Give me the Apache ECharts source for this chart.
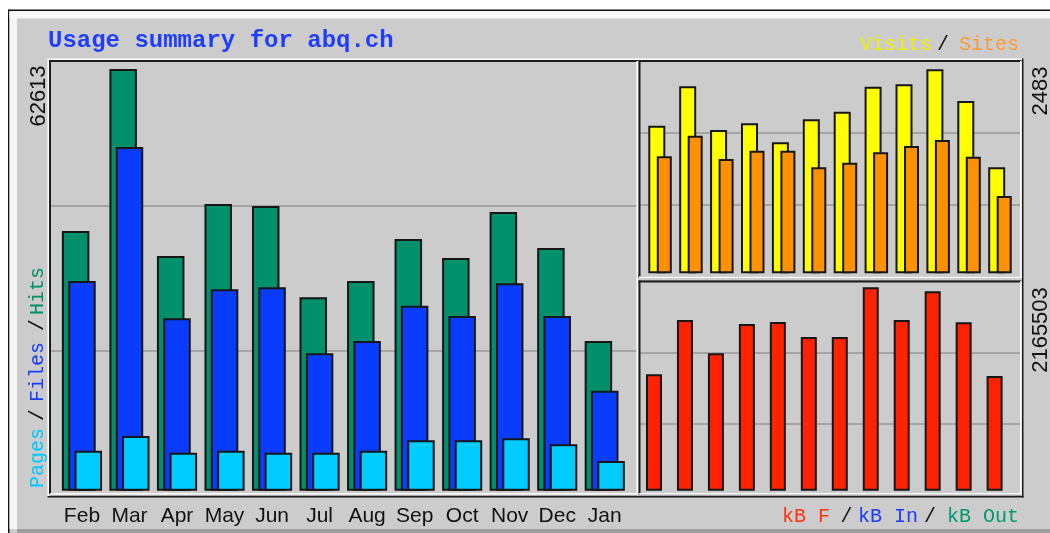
<!DOCTYPE html>
<html><head><meta charset="utf-8">
<script src="https://cdn.jsdelivr.net/npm/echarts@6/dist/echarts.min.js"></script>
<style>html,body{margin:0;padding:0;background:#fff}#c{width:1050px;height:533px}</style>
</head><body><div id="c"></div>
<script>
// ---- data ----
const months = ['Feb','Mar','Apr','May','Jun','Jul','Aug','Sep','Oct','Nov','Dec','Jan'];
const hits   = [38560, 62613, 34850, 42580, 42280, 28720, 31140, 37380, 34560, 41390, 36040, 22230];
const files  = [31140, 51040, 25600, 29910, 30200, 20400, 22230, 27470, 25940, 30800, 25940, 14850];
const pages  = [5940, 8120, 5640, 5940, 5640, 5640, 5940, 7480, 7480, 7780, 6890, 4410];
const visits = [1796, 2276, 1744, 1826, 1594, 1874, 1967, 2271, 2300, 2483, 2097, 1290];
const sites  = [1424, 1675, 1391, 1492, 1492, 1290, 1346, 1473, 1549, 1622, 1419, 941];
const kbF    = [1239200, 1817300, 1462800, 1774700, 1796000, 1636300, 1636300, 2165503, 1817300, 2122800, 1792800, 1221100];
const titleText = 'Usage summary for abq.ch';
const maxHitsLabel = '62613';
const maxVisitsLabel = '2483';
const maxKbLabel = '2165503';

// ---- styles ----
const BG = '#cccccc', DARK = '#1c1c1c', WHITE = '#ffffff', GRIDC = '#999999';
const C_HITS = '#00906c', C_FILES = '#0a3cff', C_PAGES = '#00ccff';
const C_VIS = '#ffff00', C_SITES = '#ff9000', C_KBF = '#ff2200';
const BORDER = '#161616';

const chart = echarts.init(document.getElementById('c'), null, {renderer: 'canvas'});

const panelGrids = [
  {left: 50, top: 61, width: 587, height: 435},
  {left: 639, top: 61, width: 382, height: 216},
  {left: 639, top: 281, width: 382, height: 214}
];
const barGrids = [
  {left: 58.2, top: 62, width: 570.3, height: 428.7},
  {left: 644.6, top: 61, width: 370.8, height: 212.3},
  {left: 638.5, top: 280, width: 371.6, height: 210.7}
];
const grids = panelGrids.concat(barGrids).map(g => Object.assign({containLabel: false}, g));

const xAxes = [], yAxes = [];
for (let i = 0; i < 3; i++) {
  xAxes.push({gridIndex: i, type: 'category', data: months, show: false});
  yAxes.push({gridIndex: i, type: 'value', min: 0, max: 3, interval: 1,
    axisLine: {show: false}, axisTick: {show: false}, axisLabel: {show: false},
    splitLine: {show: true, lineStyle: {color: GRIDC, width: 1.5}}});
}
xAxes.push({gridIndex: 3, type: 'category', data: months, axisLine: {show: false}, axisTick: {show: false},
  axisLabel: {interval: 0, color: '#111', fontSize: 21, fontFamily: 'Liberation Sans', margin: 15}});
xAxes.push({gridIndex: 4, type: 'category', data: months, show: false});
xAxes.push({gridIndex: 5, type: 'category', data: months, show: false});
yAxes.push({gridIndex: 3, type: 'value', min: 0, max: 63660, show: false, splitLine: {show: false}});
yAxes.push({gridIndex: 4, type: 'value', min: 0, max: 2584, show: false, splitLine: {show: false}});
yAxes.push({gridIndex: 5, type: 'value', min: 0, max: 2243000, show: false, splitLine: {show: false}});

function bar(name, data, xi, color, w, gap) {
  return {name, type: 'bar', data, xAxisIndex: xi, yAxisIndex: xi, barWidth: w, barGap: gap,
    itemStyle: {color, borderColor: BORDER, borderWidth: 2}, animation: false, silent: true};
}
const series = [
  bar('Hits', hits, 3, C_HITS, 27.5, '-77%'),
  bar('Files', files, 3, C_FILES, 27.5, '-77%'),
  bar('Pages', pages, 3, C_PAGES, 27.5, '-77%'),
  bar('Visits', visits, 4, C_VIS, 17, '-50%'),
  bar('Sites', sites, 4, C_SITES, 15, '-50%'),
  bar('kB F', kbF, 5, C_KBF, 16, '-50%')
];

function rect(x, y, w, h, fill, z) {
  return {type: 'rect', shape: {x, y, width: w, height: h}, style: {fill}, z: z || 100, silent: true};
}
function txt(x, y, text, opts) {
  return {type: 'text', x, y, rotation: opts.rot || 0, z: 110, silent: true,
    style: {text, fill: opts.color || '#111', font: opts.font, align: opts.align || 'left', verticalAlign: 'middle'}};
}
const MONO = '20px "Liberation Mono"';
const NUM = '22px "Liberation Sans"';
const R = Math.PI / 2;

const graphics = [
  // page frame
  rect(0, 0, 1050, 10, '#ffffff', 1),
  rect(0, 0, 8, 533, '#ffffff', 1),
  rect(8, 9.5, 1042, 1.5, '#111111', 2),
  rect(8, 9.5, 1.5, 524, '#111111', 2),
  rect(9.5, 11, 1041, 7.5, '#f6f6f6', 2),
  rect(9.5, 11, 7.5, 518, '#f6f6f6', 2),
  rect(17, 529, 1033, 4, '#9e9e9e', 2),
  // outer engraved frame around the panels
  rect(47.5, 58.5, 975, 1.5, WHITE),
  rect(47.5, 58.5, 1.5, 438, WHITE),
  rect(1022, 58.5, 1.5, 439, DARK),
  rect(47.5, 496, 976, 1.5, DARK),
  // left panel
  rect(49, 60, 589, 2, DARK),
  rect(49, 60, 2, 434, DARK),
  rect(636.5, 61, 1.5, 433, WHITE),
  rect(50, 493, 588, 1.5, WHITE),
  // top right panel
  rect(638.5, 60, 383, 2, DARK),
  rect(638.5, 60, 2, 218, DARK),
  rect(1020, 61, 1.5, 217, WHITE),
  rect(639, 276.5, 383, 1.5, WHITE),
  // bottom right panel
  rect(638.5, 280.5, 383, 2, DARK),
  rect(638.5, 280.5, 2, 214, DARK),
  rect(1020, 281, 1.5, 213, WHITE),
  rect(639, 493, 383, 1.5, WHITE),
  // title
  txt(48, 41, titleText, {font: 'bold 24px "Liberation Mono"', color: '#1f3dff'}),
  // top-right legend
  txt(932, 45, 'Visits', {font: MONO, color: '#eeee00', align: 'right'}),
  txt(943, 45, '/', {font: MONO, color: '#111', align: 'center'}),
  txt(1019, 45, 'Sites', {font: MONO, color: '#ff9933', align: 'right'}),
  // bottom-right legend
  txt(830, 517, 'kB F', {font: MONO, color: '#ff3311', align: 'right'}),
  txt(846.5, 517, '/', {font: MONO, color: '#111', align: 'center'}),
  txt(858, 517, 'kB In', {font: MONO, color: '#1a3cff', align: 'left'}),
  txt(930, 517, '/', {font: MONO, color: '#111', align: 'center'}),
  txt(1019, 517, 'kB Out', {font: MONO, color: '#00996e', align: 'right'}),
  // left vertical legend (reads bottom to top)
  txt(38, 488, 'Pages', {font: MONO, color: '#00c8ff', rot: R}),
  txt(38, 415, '/', {font: MONO, color: '#111', align: 'center', rot: R}),
  txt(38, 402, 'Files', {font: MONO, color: '#1a3cff', rot: R}),
  txt(38, 325, '/', {font: MONO, color: '#111', align: 'center', rot: R}),
  txt(38, 315, 'Hits', {font: MONO, color: '#00906c', rot: R}),
  // max value labels
  txt(39, 96, maxHitsLabel, {font: NUM, align: 'center', rot: R}),
  txt(1041, 91, maxVisitsLabel, {font: NUM, align: 'center', rot: R}),
  txt(1041, 330, maxKbLabel, {font: NUM, align: 'center', rot: R})
];

chart.setOption({
  backgroundColor: BG,
  animation: false,
  grid: grids,
  xAxis: xAxes,
  yAxis: yAxes,
  series,
  graphic: {elements: graphics}
});
</script>
</body></html>
